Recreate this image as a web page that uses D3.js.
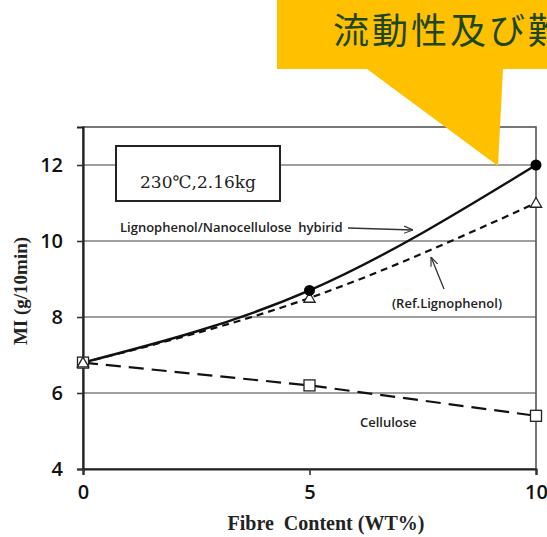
<!DOCTYPE html>
<html><head><meta charset="utf-8">
<script src="https://cdn.jsdelivr.net/npm/d3@7"></script>
<style>body{margin:0;background:#fff}svg{display:block}text{white-space:pre}</style>
</head><body>
<script>
const fibre = [0, 5, 10];
const hybrid = [6.8, 8.7, 12.0];
const refLignophenol = [6.8, 8.5, 11.0];
const cellulose = [6.8, 6.2, 5.4];
const yTicks = [4, 6, 8, 10, 12];
const xTicks = [0, 5, 10];
const gridValues = [6, 8, 10, 12];

const W = 547, H = 537;
const svg = d3.select("body").append("svg").attr("width", W).attr("height", H);
const x = d3.scaleLinear().domain([0, 10]).range([83, 536]);
const y = d3.scaleLinear().domain([4, 13]).range([469, 127]);

// grid
svg.append("g").selectAll("line").data(gridValues).join("line")
  .attr("x1", x(0)).attr("x2", x(10)).attr("y1", d => y(d)).attr("y2", d => y(d))
  .attr("stroke", "#7f7f7f").attr("stroke-width", 1.6);

// frame
svg.append("rect").attr("x", x(0)).attr("y", y(13)).attr("width", x(10) - x(0)).attr("height", y(4) - y(13))
  .attr("fill", "none").attr("stroke", "#555").attr("stroke-width", 1.6);

// axes
const yAxis = svg.append("g").attr("transform", `translate(${x(0)},0)`)
  .call(d3.axisLeft(y).tickValues(yTicks).tickSize(6).tickPadding(14));
const xAxis = svg.append("g").attr("transform", `translate(0,${y(4)})`)
  .call(d3.axisBottom(x).tickValues(xTicks).tickSize(6).tickPadding(10));
[yAxis, xAxis].forEach(g => {
  g.select(".domain").attr("stroke", "#222").attr("stroke-width", 2.2);
  g.selectAll(".tick line").attr("stroke", "#333").attr("stroke-width", 1.6);
  g.selectAll(".tick text").attr("font-family", "'Open Sans', 'Liberation Sans', sans-serif")
    .attr("font-size", 20).attr("font-weight", 600).attr("fill", "#111");
});

// lines
const mk = arr => fibre.map((f, i) => [f, arr[i]]);
const lineCurve = d3.line().x(d => x(d[0])).y(d => y(d[1])).curve(d3.curveMonotoneX);
const lineLin = d3.line().x(d => x(d[0])).y(d => y(d[1]));
svg.append("path").attr("d", lineLin(mk(cellulose))).attr("fill", "none")
  .attr("stroke", "#111").attr("stroke-width", 2.2).attr("stroke-dasharray", "15,8");
svg.append("path").attr("d", lineCurve(mk(refLignophenol))).attr("fill", "none")
  .attr("stroke", "#111").attr("stroke-width", 2.2).attr("stroke-dasharray", "7,5");
svg.append("path").attr("d", lineCurve(mk(hybrid))).attr("fill", "none")
  .attr("stroke", "#111").attr("stroke-width", 2.4);

// markers
svg.append("g").selectAll("rect").data(mk(cellulose)).join("rect")
  .attr("x", d => x(d[0]) - 5.5).attr("y", d => y(d[1]) - 5.5).attr("width", 11).attr("height", 11)
  .attr("fill", "#fff").attr("stroke", "#222").attr("stroke-width", 1.3);
const tri = d3.symbol().type(d3.symbolTriangle).size(55);
svg.append("g").selectAll("path").data(mk(refLignophenol)).join("path")
  .attr("d", tri).attr("transform", d => `translate(${x(d[0])},${y(d[1]) + 1})`)
  .attr("fill", "#fff").attr("stroke", "#222").attr("stroke-width", 1.3);
svg.append("g").selectAll("circle").data(mk(hybrid).slice(1)).join("circle")
  .attr("cx", d => x(d[0])).attr("cy", d => y(d[1])).attr("r", 5.5).attr("fill", "#000");

// condition box
svg.append("rect").attr("x", 116).attr("y", 146).attr("width", 164).attr("height", 55)
  .attr("fill", "#fff").attr("stroke", "#222").attr("stroke-width", 2);
svg.append("text").attr("x", 198).attr("y", 188).attr("text-anchor", "middle")
  .attr("font-family", "'DejaVu Serif', 'Liberation Serif', serif").attr("font-size", 17).attr("fill", "#222")
  .text("230℃,2.16kg");

// annotations
const ann = (tx, ty, t) => svg.append("text").attr("x", tx).attr("y", ty)
  .attr("font-family", "'Open Sans', 'Liberation Sans', sans-serif").attr("font-size", 13)
  .attr("font-weight", 600).attr("fill", "#222").text(t);
ann(120, 232, "Lignophenol/Nanocellulose  hybirid");
ann(392, 308, "(Ref.Lignophenol)");
ann(360, 427, "Cellulose");

svg.append("defs").append("marker").attr("id", "ah").attr("viewBox", "0 0 10 10")
  .attr("refX", 10).attr("refY", 5).attr("markerWidth", 9).attr("markerHeight", 9).attr("orient", "auto")
  .attr("markerUnits", "userSpaceOnUse")
  .append("path").attr("d", "M0,1 L10,5 L0,9").attr("fill", "none").attr("stroke", "#333").attr("stroke-width", 1.3);
svg.append("line").attr("x1", 348).attr("y1", 228).attr("x2", 413).attr("y2", 230)
  .attr("stroke", "#333").attr("stroke-width", 1.3).attr("marker-end", "url(#ah)");
svg.append("line").attr("x1", 444).attr("y1", 289).attr("x2", 431).attr("y2", 257)
  .attr("stroke", "#333").attr("stroke-width", 1.3).attr("marker-end", "url(#ah)");

// axis titles
svg.append("text").attr("transform", "translate(27,291) rotate(-90)").attr("text-anchor", "middle")
  .attr("font-family", "'Liberation Serif', 'DejaVu Serif', serif").attr("font-size", 19).attr("font-weight", "bold")
  .attr("fill", "#222").text("MI (g/10min)");
svg.append("text").attr("x", 326).attr("y", 530).attr("text-anchor", "middle")
  .attr("font-family", "'Liberation Serif', 'DejaVu Serif', serif").attr("font-size", 20).attr("font-weight", "bold")
  .attr("fill", "#222").text("Fibre  Content (WT%)");

// callout
svg.append("path").attr("d", "M277,0 L547,0 L547,69 L503,69 L498,166 L367,69 L277,69 Z").attr("fill", "#FFC000");
svg.append("text").attr("x", 333).attr("y", 44)
  .attr("font-family", "'Noto Sans CJK JP', sans-serif").attr("font-size", 36).attr("letter-spacing", 3)
  .attr("fill", "#1E4620").text("流動性及び難");
</script>
</body></html>
